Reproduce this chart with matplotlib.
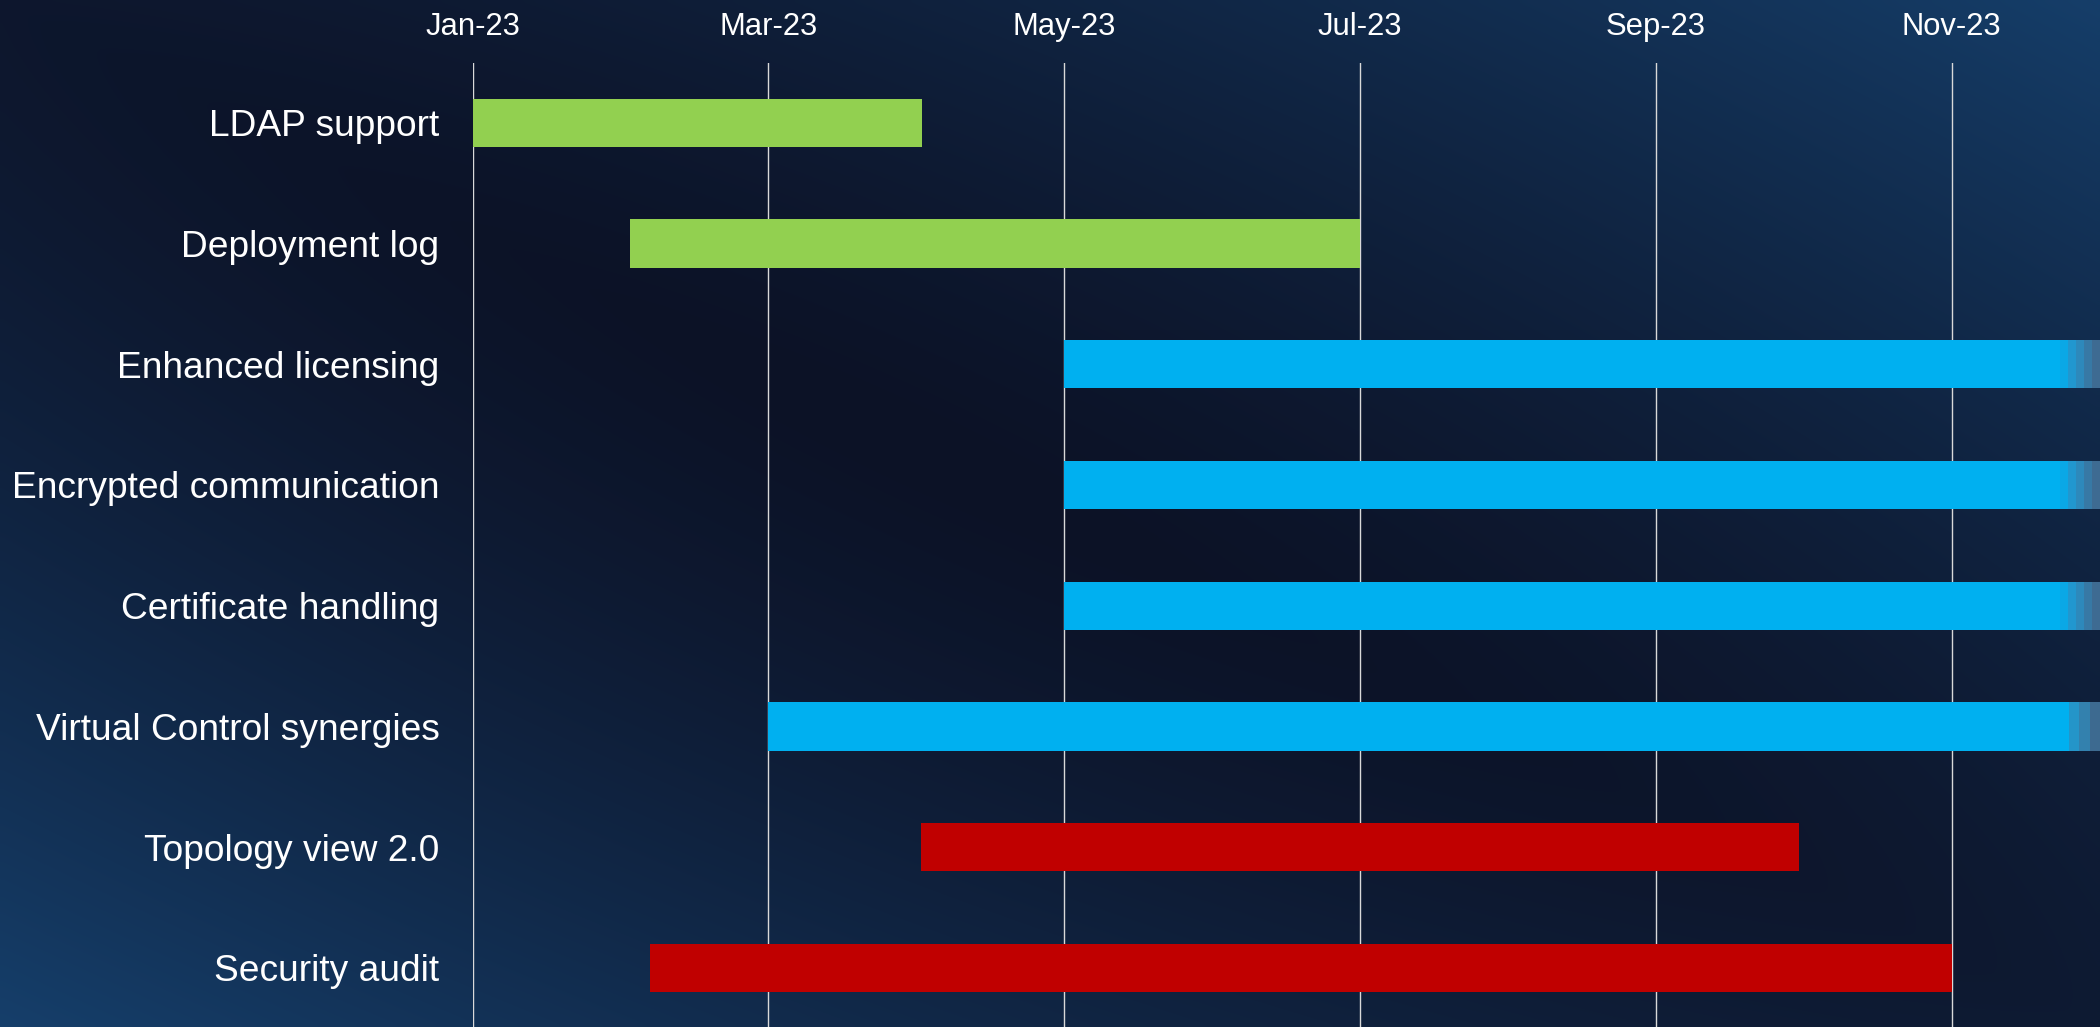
import numpy as np
import matplotlib
matplotlib.use("Agg")
import matplotlib.pyplot as plt
from matplotlib.colors import to_rgb

# ---- data -------------------------------------------------------------
tasks = [
    "LDAP support",
    "Deployment log",
    "Enhanced licensing",
    "Encrypted communication",
    "Certificate handling",
    "Virtual Control synergies",
    "Topology view 2.0",
    "Security audit",
]
# days since 2023-01-01; NaN end = still running past the end of the axis
start_day = [0, 32.4, 122, 122, 122, 61, 92.5, 36.6]
end_day = [92.7, 183, np.nan, np.nan, np.nan, np.nan, 273.5, 305]
status = ["done", "done", "running", "running", "running", "running", "late", "late"]

tick_days = [0, 61, 122, 183, 244, 305]
tick_labels = ["Jan-23", "Mar-23", "May-23", "Jul-23", "Sep-23", "Nov-23"]

# ---- styling ----------------------------------------------------------
status_color = {"done": "#92D050", "running": "#00B0F0", "late": "#C00000"}
x_max = 335.6
fade_long = ["#0aa8e6", "#2197cf", "#2d89bb", "#3779a5", "#3e6b92"]
fade_short = ["#2495c9", "#3381ae", "#3d6a90"]

plt.rcParams["font.family"] = ["Liberation Sans", "DejaVu Sans"]

W, H = 2100, 1027
fig = plt.figure(figsize=(W / 100, H / 100), dpi=100)

# background: dark navy, lighter toward the top-right and bottom-left corners
bg_ax = fig.add_axes([0, 0, 1, 1], zorder=-10)
u = np.linspace(0, 1, 420)[None, :]
v = np.linspace(0, 1, 206)[:, None]
f = 0.8 * np.abs(u - v) ** 1.3 + 0.28 * ((u - 0.45) ** 2 + (v - 0.42) ** 2)
f = np.clip(f, 0, 1)[..., None]
dark = np.array(to_rgb("#0c1226"))
light = np.array(to_rgb("#16416e"))
img = dark + (light - dark) * f
bg_ax.imshow(img, aspect="auto", extent=[0, 1, 0, 1], interpolation="bicubic")
bg_ax.set_axis_off()

ax = fig.add_axes([0.2251, -0.0011, 0.7749, 0.9402])
ax.set_facecolor("none")

bar_h = 0.4
for i, (s, e, st) in enumerate(zip(start_day, end_day, status)):
    c = status_color[st]
    if np.isnan(e):
        # open-ended bar: solid body with a stepped fade at the right edge
        steps = fade_short if i == 5 else fade_long
        solid_end = 329.2 if i == 5 else 327.3
        ax.barh(i, solid_end - s, left=s, height=bar_h, color=c, zorder=3)
        step_w = (x_max - solid_end) / len(steps)
        for k, sc in enumerate(steps):
            ax.barh(i, step_w + 0.05, left=solid_end + k * step_w, height=bar_h,
                    color=sc, zorder=3, linewidth=0)
    else:
        ax.barh(i, e - s, left=s, height=bar_h, color=c, zorder=3)

ax.set_xlim(0, x_max)
ax.set_ylim(len(tasks) - 0.5, -0.5)

ax.set_xticks(tick_days)
ax.set_xticklabels(tick_labels)
ax.xaxis.tick_top()
ax.tick_params(axis="x", length=0, pad=15, labelsize=22.3, labelcolor="white")
ax.set_yticks(range(len(tasks)))
ax.set_yticklabels(tasks)
ax.tick_params(axis="y", length=0, pad=24, labelsize=26.7, labelcolor="white")

ax.grid(axis="x", color="#d9d9d9", linewidth=1.0, zorder=1)
ax.set_axisbelow(True)
for sp in ax.spines.values():
    sp.set_visible(False)

fig.savefig("out.png", dpi=100)
